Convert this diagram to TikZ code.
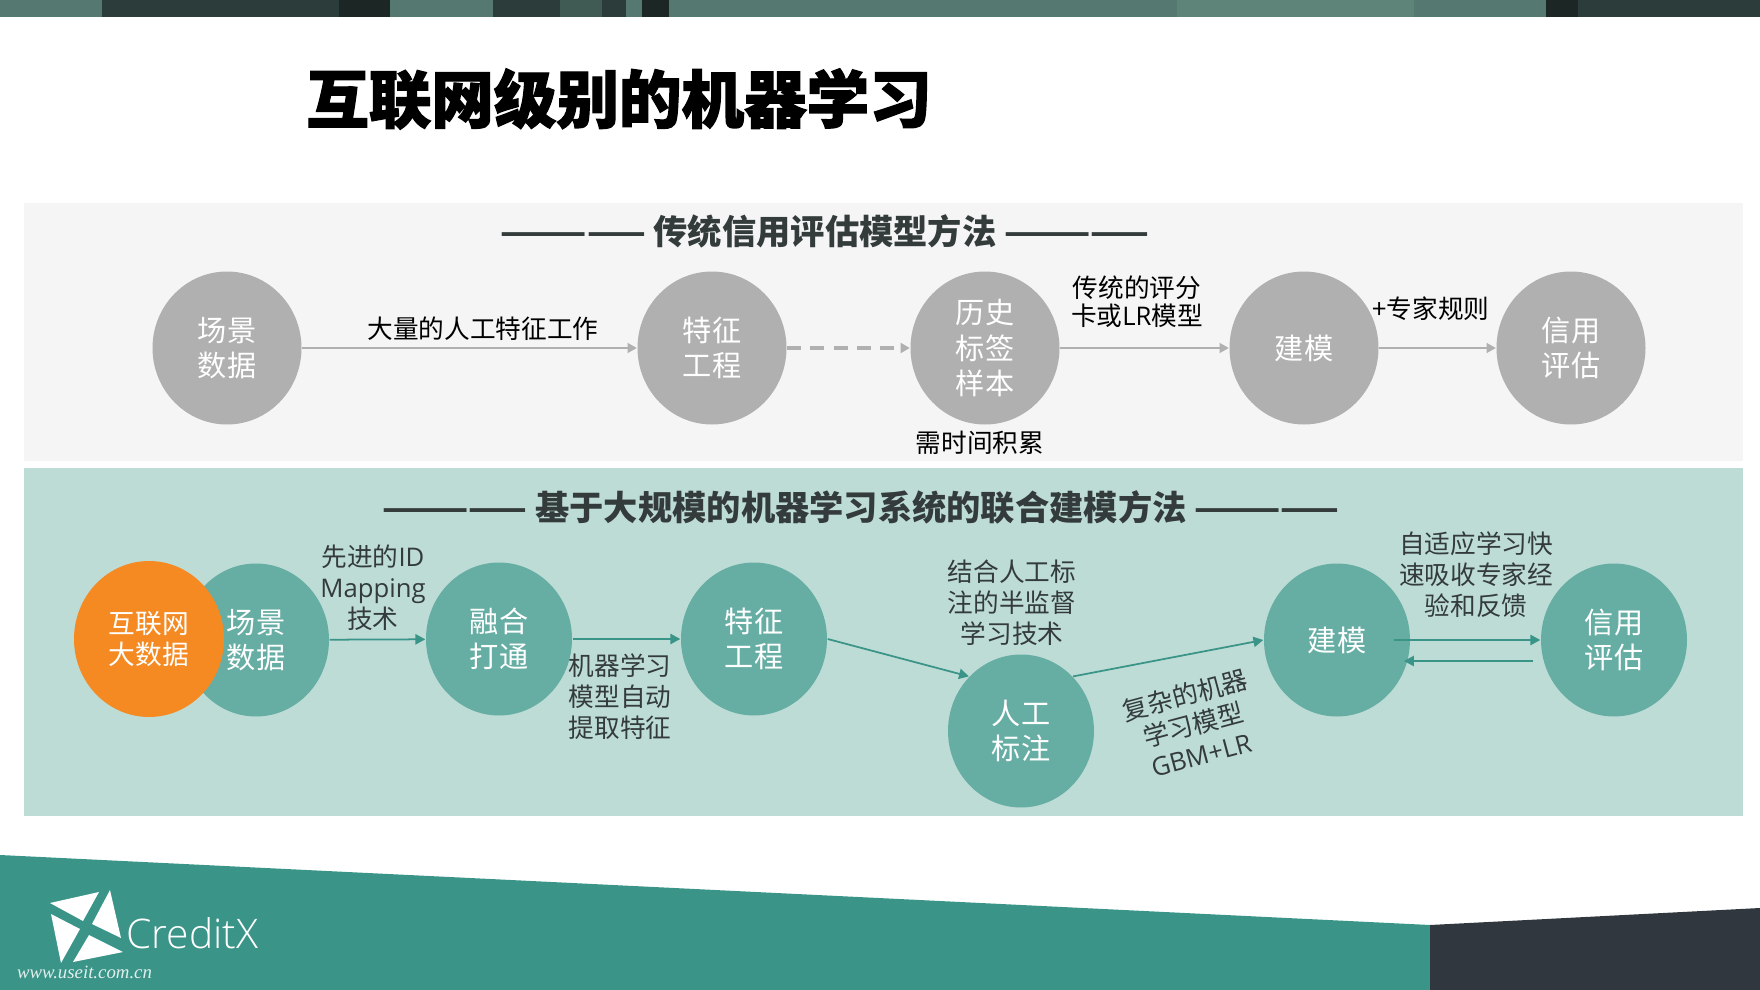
\documentclass[tikz,border=0pt]{standalone}
\usepackage{fontspec}
\usepackage{xcolor}
\usetikzlibrary{arrows.meta, positioning, shapes.geometric, calc}
\setmainfont{Open Sans}
\newfontfamily\cjk{Noto Sans CJK SC}
\newfontfamily\cjkheavy[BoldFeatures={FakeBold=2}]{Noto Sans CJK SC}
\newfontfamily\brandfont{Open Sans Light}
\newfontfamily\webfont{Liberation Serif}
\definecolor{barmid}{HTML}{557870}
\definecolor{barlight}{HTML}{5E8479}
\definecolor{bardark}{HTML}{2C3C3A}
\definecolor{barblack}{HTML}{1C2624}
\definecolor{panelgray}{HTML}{F5F5F5}
\definecolor{panelteal}{HTML}{BEDCD6}
\definecolor{circlegray}{HTML}{B0B0B0}
\definecolor{circleteal}{HTML}{66AEA4}
\definecolor{footteal}{HTML}{3A9488}
\definecolor{footdark}{HTML}{30373F}
\definecolor{bigorange}{HTML}{F58A23}
\definecolor{textdark}{HTML}{333B3B}

\begin{document}
\begin{tikzpicture}[
    graycircle/.style={ellipse, fill=circlegray, text=white, inner sep=0pt, minimum width=1.49cm, minimum height=1.53cm, align=center, font=\cjk\fontsize{8.3}{10}\selectfont},
    tealcircle/.style={ellipse, fill=circleteal, text=white, inner sep=0pt, minimum width=1.46cm, minimum height=1.53cm, align=center, font=\cjk\fontsize{8.3}{10}\selectfont},
    toplabel/.style={align=center, text=black, inner sep=0pt, font=\cjk\fontsize{7.3}{8}\selectfont},
    lowlabel/.style={align=center, text=textdark, inner sep=0pt, font=\cjk\fontsize{7.3}{8.8}\selectfont},
    headline/.style={text=textdark, inner sep=0pt, font=\cjk\bfseries\fontsize{9.75}{11}\selectfont},
    grayarrow/.style={-{Triangle[length=2.6pt, width=2.8pt]}, circlegray, line width=0.45pt},
    tealarrow/.style={-{Triangle[length=2.8pt, width=2.9pt]}, footteal, line width=0.5pt},
]
\useasboundingbox (0,0) rectangle (17.6,-9.9);

% top bar
\foreach \xa/\xb/\barcol in {0/1.02/barmid, 1.02/3.39/bardark, 3.39/3.90/barblack, 3.90/4.93/barmid, 4.93/5.60/bardark, 5.60/6.02/barmid!75!black, 6.02/6.26/bardark, 6.26/6.42/barmid, 6.42/6.69/barblack, 6.69/11.77/barmid, 11.77/14.14/barlight, 14.14/15.46/barmid, 15.46/15.78/barblack, 15.78/17.6/bardark}
    \fill[\barcol] (\xa,0) rectangle (\xb,-0.17);

\node[inner sep=0pt, font=\cjkheavy\bfseries\fontsize{17.8}{20}\selectfont] (maintitle) at (6.19,-0.99) {互联网级别的机器学习};

% panels
\fill[panelgray] (0.24,-2.03) rectangle (17.43,-4.61);
\fill[panelteal] (0.24,-4.68) rectangle (17.43,-8.16);

% footer
\fill[footteal] (0,-8.55) -- (14.30,-9.25) -- (14.30,-9.9) -- (0,-9.9) -- cycle;
\fill[footdark] (14.30,-9.25) -- (17.6,-9.08) -- (17.6,-9.9) -- (14.30,-9.9) -- cycle;

% logo
\fill[white] (0.50,-9.03) -- (0.99,-8.92) -- (0.83,-9.21) -- cycle;
\fill[white] (1.10,-8.90) -- (1.21,-9.38) -- (0.92,-9.24) -- cycle;
\fill[white] (0.51,-9.14) -- (0.80,-9.29) -- (0.61,-9.63) -- cycle;
\fill[white] (0.89,-9.35) -- (1.23,-9.52) -- (0.73,-9.62) -- cycle;
\node[text=white, inner sep=0pt, font=\brandfont\fontsize{11.6}{14}\selectfont] (brand) at (1.925,-9.33) {CreditX};
\node[text=white!85!footteal, inner sep=0pt, font=\webfont\itshape\fontsize{5.35}{6}\selectfont] (website) at (0.845,-9.72) {www.useit.com.cn};

% traditional
\node[headline] (head1) at (8.25,-2.31) {————— 传统信用评估模型方法 —————};
\node[graycircle] (scene1) at (2.27,-3.48) {场景\\数据};
\node[graycircle] (feat1) at (7.12,-3.48) {特征\\工程};
\node[graycircle] (hist1) at (9.85,-3.48) {历史\\标签\\样本};
\node[graycircle] (model1) at (13.04,-3.48) {建模};
\node[graycircle] (score1) at (15.71,-3.48) {信用\\评估};

\draw[grayarrow] (scene1) -- (feat1);
\draw[grayarrow, dashed, line width=1.1pt, dash pattern=on 4pt off 2.6pt] (feat1) -- (hist1);
\draw[grayarrow] (hist1) -- (model1);
\draw[grayarrow] (model1) -- (score1);

\node[toplabel] (lab1) at (4.83,-3.29) {大量的人工特征工作};
\node[toplabel] (lab2) at (11.37,-3.02) {传统的评分\\卡或{\rmfamily LR}模型};
\node[toplabel] (lab3) at (14.31,-3.09) {+专家规则};
\node[toplabel] (lab4) at (9.80,-4.43) {需时间积累};

% joint modelling
\node[headline] (head2) at (8.61,-5.07) {————— 基于大规模的机器学习系统的联合建模方法 —————};
\node[tealcircle] (scene2) at (2.56,-6.40) {场景\\数据};
\node[ellipse, fill=bigorange, text=white, inner sep=0pt, minimum width=1.50cm, minimum height=1.56cm, align=center, font=\cjk\fontsize{7.6}{9}\selectfont] (web2) at (1.49,-6.39) {互联网\\大数据};
\node[tealcircle] (merge2) at (4.99,-6.39) {融合\\打通};
\node[tealcircle] (feat2) at (7.54,-6.39) {特征\\工程};
\node[tealcircle] (label2) at (10.21,-7.31) {人工\\标注};
\node[tealcircle] (model2) at (13.37,-6.40) {建模};
\node[tealcircle] (score2) at (16.14,-6.40) {信用\\评估};

\coordinate (fwdstart) at (13.94,-6.40);
\coordinate (backstart) at (15.33,-6.61);
\coordinate (backend) at (14.04,-6.61);

\draw[tealarrow] (scene2) -- (merge2);
\draw[tealarrow] (merge2) -- (feat2);
\draw[tealarrow] (feat2.east) -- (label2.north west);
\draw[tealarrow] (label2.north east) -- (model2.west);
\draw[tealarrow] (fwdstart) -- (score2.west);
\draw[tealarrow] (backstart) -- (backend);

\node[lowlabel] (lab5) at (3.73,-5.88) {先进的{\rmfamily ID}\\{\rmfamily Mapping}\\技术};
\node[lowlabel] (lab6) at (6.20,-6.97) {机器学习\\模型自动\\提取特征};
\node[lowlabel] (lab7) at (10.12,-6.03) {结合人工标\\注的半监督\\学习技术};
\node[lowlabel, rotate=15] (lab8) at (11.93,-7.24) {复杂的机器\\学习模型\\{\rmfamily GBM+LR}};
\node[lowlabel] (lab9) at (14.76,-5.75) {自适应学习快\\速吸收专家经\\验和反馈};

\end{tikzpicture}
\end{document}
